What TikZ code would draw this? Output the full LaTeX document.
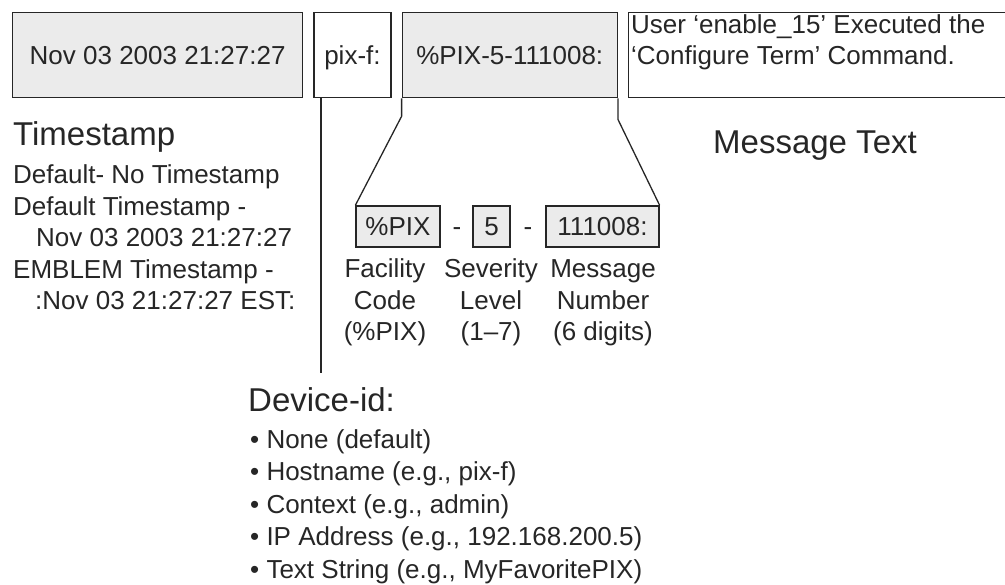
\documentclass[tikz,border=0pt]{standalone}
\usepackage{fontspec}
\setmainfont{Liberation Sans}
\usetikzlibrary{positioning}

\definecolor{ink}{HTML}{262626}
\definecolor{boxgray}{HTML}{EBEBEB}

\begin{document}
\begin{tikzpicture}[%
        x=1pt, y=-1pt,
        every node/.style={text=ink},
        body/.style={font=\fontsize{26}{31.5}\selectfont},
        head/.style={font=\fontsize{33}{38}\selectfont},
        field/.style={draw=ink, line width=1.3pt, body, minimum height=85pt,
                      text height=19pt, text depth=0pt, inner sep=0pt},
        part/.style={field, fill=boxgray, minimum height=41pt},
        link/.style={draw=ink, line width=1.3pt}
        ]
        \useasboundingbox (0,0) rectangle (1005,585);

        % the message line
        \node[field, fill=boxgray, minimum width=290pt, anchor=north west] (ts) at (12,12) {Nov 03 2003 21:27:27};
        \node[field, minimum width=77pt, right=10pt of ts] (dev) {pix-f:};
        \node[field, fill=boxgray, minimum width=215pt, right=10pt of dev] (code) {\%PIX-5-111008:};
        \node[field, minimum width=379pt, right=10pt of code] (msg) {};
        \node[body, anchor=north west, align=left, inner sep=0pt] (msgtext) at (631,14)
             {User ‘enable\_15’ Executed the\\‘Configure Term’ Command.};

        % the parts of the code
        \node[part, minimum width=84pt] (fac) at (398,226.5) {\%PIX};
        \node[part, minimum width=37pt] (sev) at (491.5,226.5) {5};
        \node[part, minimum width=113pt] (num) at (602.5,226.5) {111008:};
        \node[body, anchor=base] (dash1) at (457,236) {-};
        \node[body, anchor=base] (dash2) at (528,236) {-};

        % (base = last line)
        \node[body, align=center, anchor=base] (facname) at (385,341) {Facility\\Code\\(\%PIX)};
        \node[body, align=center, anchor=base] (sevname) at (491,341) {Severity\\Level\\(1–7)};
        \node[body, align=center, anchor=base] (numname) at (603,341) {Message\\Number\\(6 digits)};

        \path[link] (code.south west) -- ++(0,18) -- (fac.north west);
        \path[link] (code.south east) -- ++(0,21) -- (num.north east);

        % timestamp
        \node[head, anchor=base west, inner sep=0pt] (tsname) at (13,146) {Timestamp};
        \node[body, anchor=base west, align=left, inner sep=0pt] (tslist) at (13,310)
             {Default- No Timestamp\\
              Default Timestamp -\\
              \hspace*{23pt}Nov 03 2003 21:27:27\\
              EMBLEM Timestamp -\\
              \hspace*{22pt}:Nov 03 21:27:27 EST:};

        % message text
        \node[head, anchor=base west, inner sep=0pt] (msgname) at (713,154) {Message Text};

        % device id
        \coordinate (devend) at (321,373);
        \path[link] (dev.south -| devend) -- (devend);
        \node[head, anchor=base west, inner sep=0pt] (devname) at (248,412) {Device-id:};
        \node[body, anchor=base west, align=left, inner sep=0pt,
              font=\fontsize{26}{32.5}\selectfont] (devlist) at (250,578)
             {• None (default)\\
              • Hostname (e.g., pix-f)\\
              • Context (e.g., admin)\\
              • IP Address (e.g., 192.168.200.5)\\
              • Text String (e.g., MyFavoritePIX)};

\end{tikzpicture}
\end{document}
